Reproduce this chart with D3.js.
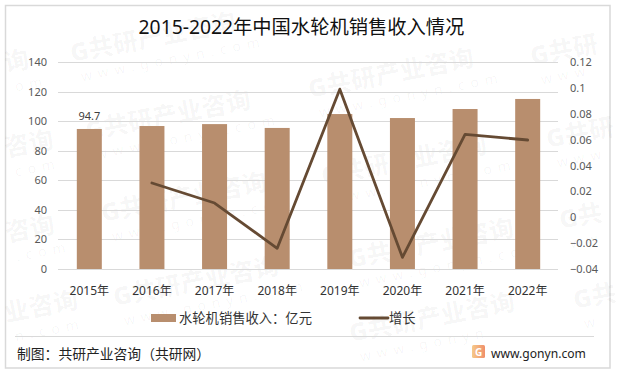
<!DOCTYPE html>
<html>
<head>
<meta charset="utf-8">
<script src="https://cdn.jsdelivr.net/npm/d3@7"></script>
<style>
    html, body { margin: 0; padding: 0; background: #fff; }
    svg { display: block; }
    text { font-family: "Noto Sans", "Noto Sans CJK SC", sans-serif; }
</style>
</head>
<body>
<div id="wide"></div>
<script>
const years = ["2015年", "2016年", "2017年", "2018年", "2019年", "2020年", "2021年", "2022年"];
const revenue = [94.7, 96.7, 98, 95.4, 104.8, 102.1, 108.2, 115];
const growth = [null, 0.0265, 0.011, -0.024, 0.099, -0.031, 0.064, 0.0597];
const leftTicks = [0, 20, 40, 60, 80, 100, 120, 140];
const rightTicks = [-0.04, -0.02, 0, 0.02, 0.04, 0.06, 0.08, 0.1, 0.12];

const BAR = "#b88e6e";
const LINE = "#654a33";
const GRID = "#d9d9d9";
const TICK = "#595959";

let svg = d3.select("#wide")
    .append("svg")
    .attr("width", 618)
    .attr("height", 374);

svg.append("rect")
    .attr("x", 5.5).attr("y", 5.5)
    .attr("width", 604.5).attr("height", 362.5)
    .attr("fill", "#fff")
    .attr("stroke", "#d9d9d9")
    .attr("stroke-width", 1.5);

// Watermarks: x, y, brand text, site text
const marks = [
    [72, 62, "G共研产业咨询", "www.gonyn.com"],
    [87, 140, "G共研产业咨询", "www.gonyn.com"],
    [310, 98, "G共研产业咨询", "www.gonyn.com"],
    [532, 65, "G共研", "www"],
    [548, 148, "G共研", "www"],
    [6, 72, "询", "om"],
    [6, 157, "咨询", "com"],
    [103, 222, "G共研产业咨询", "www.gonyn.com"],
    [7, 242, "咨询", ".com"],
    [115, 306, "G共研产业咨询", "www.gonyn.com"],
    [6, 322, "业咨询", "n.com"],
    [351, 342, "G共研产业咨询", "www.gonyn"],
    [323, 185, "G共研产业咨询", "www.gonyn.com"],
    [350, 268, "G共研产业咨询", "www.gonyn.com"],
    [561, 229, "G共", "ww"],
    [575, 309, "G共", "w"]
];
let wm = svg.append("g").attr("class", "watermark");
marks.forEach(function (m) {
    let g = wm.append("g").attr("transform", "translate(" + m[0] + "," + m[1] + ") rotate(-11)");
    g.append("text")
        .attr("font-size", 25).attr("font-weight", 900)
        .attr("fill", "#000").attr("fill-opacity", 0.032)
        .text(m[2]);
    g.append("text")
        .attr("x", 6).attr("y", 21)
        .attr("font-size", 14)
        .attr("letter-spacing", 6)
        .attr("fill", "#000").attr("fill-opacity", 0.04)
        .text(m[3]);
});

const x = d3.scaleBand().domain(years).range([58, 559]);
const yLeft = d3.scaleLinear().domain([0, 140]).range([269, 62]);
const yRight = d3.scaleLinear().domain([-0.04, 0.12]).range([269, 62]);

// Grid
svg.append("g")
    .selectAll("line")
    .data(leftTicks)
    .enter().append("line")
    .attr("x1", 58).attr("x2", 558)
    .attr("y1", function (d) { return Math.round(yLeft(d)) + 0.5; })
    .attr("y2", function (d) { return Math.round(yLeft(d)) + 0.5; })
    .attr("stroke", GRID)
    .attr("stroke-width", 1);

// Bars
svg.append("g")
    .selectAll("rect")
    .data(revenue)
    .enter().append("rect")
    .attr("x", function (d, i) { return x(years[i]) + x.bandwidth() / 2 - 12.5; })
    .attr("width", 25)
    .attr("y", function (d) { return yLeft(d); })
    .attr("height", function (d) { return yLeft(0) - yLeft(d); })
    .attr("fill", BAR);

// Growth line
const line = d3.line()
    .defined(function (d) { return d !== null; })
    .x(function (d, i) { return x(years[i]) + x.bandwidth() / 2; })
    .y(function (d) { return yRight(d); });

svg.append("path")
    .datum(growth)
    .attr("d", line)
    .attr("fill", "none")
    .attr("stroke", LINE)
    .attr("stroke-width", 2.8)
    .attr("stroke-linecap", "round")
    .attr("stroke-linejoin", "round");

// Axes labels
svg.append("g").selectAll("text")
    .data(leftTicks)
    .enter().append("text")
    .attr("x", 47)
    .attr("y", function (d) { return yLeft(d) + 4; })
    .attr("text-anchor", "end")
    .attr("font-size", 11)
    .attr("fill", TICK)
    .text(function (d) { return d; });

svg.append("g").selectAll("text")
    .data(rightTicks)
    .enter().append("text")
    .attr("x", 570)
    .attr("y", function (d) { return yRight(d) + 4; })
    .attr("font-size", 11)
    .attr("fill", TICK)
    .text(function (d) { return d3.format("~g")(d); });

svg.append("g").selectAll("text")
    .data(years)
    .enter().append("text")
    .attr("x", function (d) { return x(d) + x.bandwidth() / 2; })
    .attr("y", 295)
    .attr("text-anchor", "middle")
    .attr("font-size", 12)
    .attr("fill", "#333")
    .text(function (d) { return d; });

// First bar label
svg.append("text")
    .attr("x", x(years[0]) + x.bandwidth() / 2)
    .attr("y", yLeft(revenue[0]) - 9)
    .attr("text-anchor", "middle")
    .attr("font-size", 11)
    .attr("fill", "#404040")
    .text(revenue[0]);

// Title
svg.append("text")
    .attr("x", 301.5)
    .attr("y", 34)
    .attr("text-anchor", "middle")
    .attr("font-size", 19.3)
    .attr("fill", "#111")
    .text("2015-2022年中国水轮机销售收入情况");

// Legend
svg.append("rect")
    .attr("x", 151).attr("y", 314)
    .attr("width", 25).attr("height", 8)
    .attr("fill", BAR);
svg.append("text")
    .attr("x", 179).attr("y", 323)
    .attr("font-size", 13.3)
    .attr("fill", "#333")
    .text("水轮机销售收入：亿元");
svg.append("line")
    .attr("x1", 360).attr("x2", 388)
    .attr("y1", 318).attr("y2", 318)
    .attr("stroke", LINE)
    .attr("stroke-width", 2.8)
    .attr("stroke-linecap", "round");
svg.append("text")
    .attr("x", 389).attr("y", 323)
    .attr("font-size", 13.3)
    .attr("fill", "#333")
    .text("增长");

// Footer
svg.append("line")
    .attr("x1", 15).attr("x2", 594)
    .attr("y1", 336.5).attr("y2", 336.5)
    .attr("stroke", "#d9d9d9");
svg.append("text")
    .attr("x", 17).attr("y", 359)
    .attr("font-size", 13.8)
    .attr("fill", "#222")
    .text("制图：共研产业咨询（共研网）");

let grad = svg.append("defs").append("linearGradient").attr("id", "logo").attr("x1", 0).attr("x2", 1);
grad.append("stop").attr("offset", 0).attr("stop-color", "#f6c98a");
grad.append("stop").attr("offset", 1).attr("stop-color", "#f0906a");
svg.append("rect")
    .attr("x", 472).attr("y", 345)
    .attr("width", 13).attr("height", 13)
    .attr("rx", 1.5)
    .attr("fill", "url(#logo)");
svg.append("text")
    .attr("x", 478.5).attr("y", 355.5)
    .attr("text-anchor", "middle")
    .attr("font-size", 10).attr("font-weight", 700)
    .attr("fill", "#fff")
    .text("G");
svg.append("text")
    .attr("x", 491).attr("y", 358)
    .attr("font-size", 12.1)
    .attr("fill", "#222")
    .text("www.gonyn.com");
</script>
</body>
</html>
